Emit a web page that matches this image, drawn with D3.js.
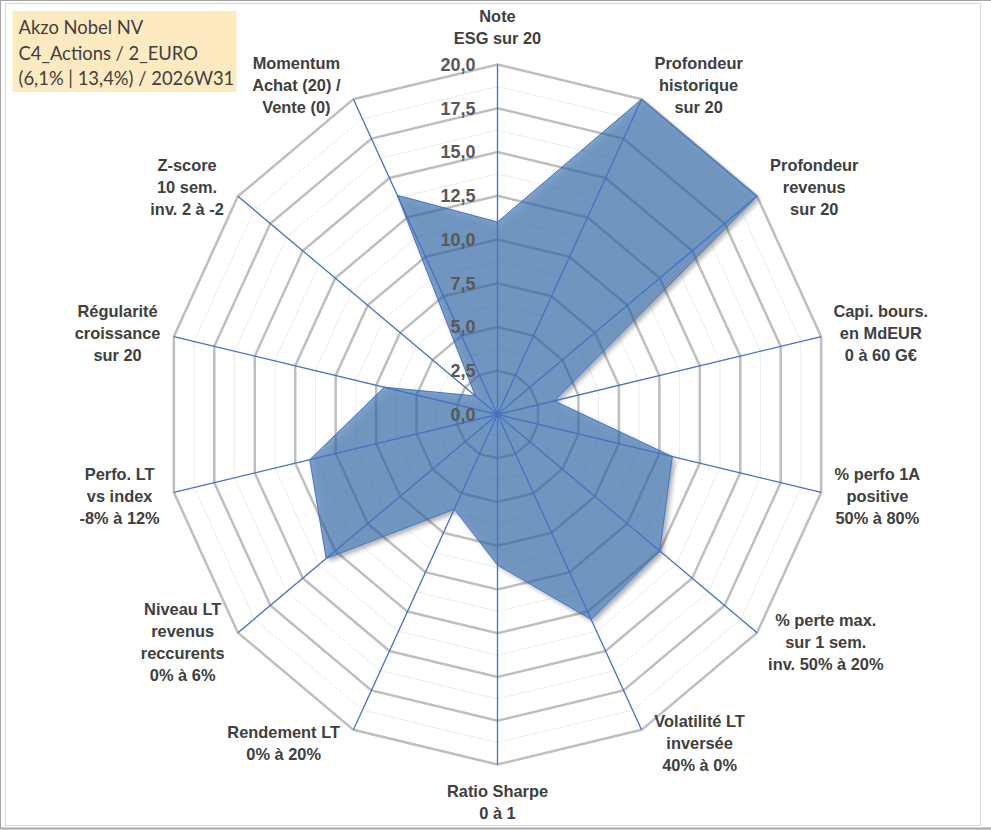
<!DOCTYPE html>
<html>
<head>
<meta charset="utf-8">
<script src="https://cdn.jsdelivr.net/npm/d3@7"></script>
<style>
  html, body { margin: 0; padding: 0; background: #ffffff; }
  svg { display: block; }
</style>
</head>
<body>
<svg id="chart" width="991" height="830"></svg>
<script>
// ---------------- DATA ----------------
const categories = [
  ["Note", "ESG sur 20"],
  ["Profondeur", "historique", "sur 20"],
  ["Profondeur", "revenus", "sur 20"],
  ["Capi. bours.", "en MdEUR", "0 à 60 G€"],
  ["% perfo 1A", "positive", "50% à 80%"],
  ["% perte max.", "sur 1 sem.", "inv. 50% à 20%"],
  ["Volatilité LT", "inversée", "40% à 0%"],
  ["Ratio Sharpe", "0 à 1"],
  ["Rendement LT", "0% à 20%"],
  ["Niveau LT", "revenus", "reccurents", "0% à 6%"],
  ["Perfo. LT", "vs index", "-8% à 12%"],
  ["Régularité", "croissance", "sur 20"],
  ["Z-score", "10 sem.", "inv. 2 à -2"],
  ["Momentum", "Achat (20) /", "Vente (0)"]
];
const seriesValues = [11.0, 20.0, 20.0, 3.5, 10.8, 12.5, 13.0, 8.6, 6.0, 13.2, 11.6, 7.0, 1.7, 13.9];
const tickValues = [0, 2.5, 5, 7.5, 10, 12.5, 15, 17.5, 20];
const tickLabels = ["0,0", "2,5", "5,0", "7,5", "10,0", "12,5", "15,0", "17,5", "20,0"];
const minorTickValues = [1.25, 3.75, 6.25, 8.75, 11.25, 13.75, 16.25, 18.75];
const titleLines = ["Akzo Nobel NV", "C4_Actions / 2_EURO", "(6,1% | 13,4%) / 2026W31"];

// ---------------- LAYOUT ----------------
const W = 991, H = 830;
const cx = 497.5, cy = 414.5;
const RX = 332, RY = 350;
const n = categories.length;

const svg = d3.select("#chart");

const rxScale = d3.scaleLinear().domain([0, 20]).range([0, RX]);
const ryScale = d3.scaleLinear().domain([0, 20]).range([0, RY]);
const angle = d3.scaleLinear().domain([0, n]).range([0, 2 * Math.PI]);

const px = (i, v) => cx + rxScale(v) * Math.sin(angle(i));
const py = (i, v) => cy - ryScale(v) * Math.cos(angle(i));

// Frame
svg.append("rect").attr("x", 0).attr("y", 0).attr("width", W).attr("height", H).attr("fill", "#ffffff");
svg.append("rect").attr("x", 5.5).attr("y", 3.5).attr("width", 975).attr("height", 822)
  .attr("fill", "#ffffff").attr("stroke", "#d9d9d9").attr("stroke-width", 1);
svg.append("line").attr("x1", 0).attr("x2", W).attr("y1", 0.5).attr("y2", 0.5).attr("stroke", "#a6a6a6");
svg.append("line").attr("x1", 0.5).attr("x2", 0.5).attr("y1", 0).attr("y2", 829).attr("stroke", "#a6a6a6");
svg.append("line").attr("x1", 0).attr("x2", W).attr("y1", 828.5).attr("y2", 828.5).attr("stroke", "#a6a6a6").attr("stroke-width", 2);

// Shadow filter (outside only)
const defs = svg.append("defs");
const f = defs.append("filter").attr("id", "shadow").attr("x", "-10%").attr("y", "-10%").attr("width", "130%").attr("height", "130%");
f.append("feGaussianBlur").attr("in", "SourceAlpha").attr("stdDeviation", 2.5).attr("result", "blur");
f.append("feOffset").attr("in", "blur").attr("dx", 3).attr("dy", 3).attr("result", "off");
f.append("feComponentTransfer").attr("in", "off").attr("result", "offA")
  .append("feFuncA").attr("type", "linear").attr("slope", 0.55);
f.append("feComposite").attr("in", "offA").attr("in2", "SourceAlpha").attr("operator", "out").attr("result", "outer");
const fm = f.append("feMerge");
fm.append("feMergeNode").attr("in", "outer");
fm.append("feMergeNode").attr("in", "SourceGraphic");

const ringLine = d3.line().curve(d3.curveLinearClosed);
const ringPoints = v => d3.range(n).map(i => [px(i, v), py(i, v)]);

// Minor rings
svg.append("g").selectAll("path").data(minorTickValues).join("path")
  .attr("d", v => ringLine(ringPoints(v)))
  .attr("fill", "none").attr("stroke", "#ececec").attr("stroke-width", 1);

// Major rings
svg.append("g").selectAll("path").data(tickValues.filter(v => v > 0)).join("path")
  .attr("d", v => ringLine(ringPoints(v)))
  .attr("fill", "none").attr("stroke", "#bfbfbf").attr("stroke-width", 2.5)
  .attr("stroke-linejoin", "miter");

// Series area
const areaLine = d3.line()
  .x((d, i) => px(i, d))
  .y((d, i) => py(i, d))
  .curve(d3.curveLinearClosed);

svg.append("path")
  .datum(seriesValues)
  .attr("d", areaLine)
  .attr("fill", "rgb(40,100,165)")
  .attr("fill-opacity", 0.6)
  .attr("filter", "url(#shadow)");

svg.append("path")
  .datum(seriesValues)
  .attr("d", areaLine)
  .attr("fill", "none")
  .attr("stroke", "#4472c4")
  .attr("stroke-width", 1);

// Spokes
svg.append("g").selectAll("line").data(d3.range(n)).join("line")
  .attr("x1", cx).attr("y1", cy)
  .attr("x2", i => px(i, 20)).attr("y2", i => py(i, 20))
  .attr("stroke", "#4472c4").attr("stroke-width", 1.3);

// Tick labels
svg.append("g").selectAll("text").data(tickValues).join("text")
  .attr("x", cx - 22)
  .attr("y", v => cy - ryScale(v))
  .attr("dy", "0.36em")
  .attr("text-anchor", "end")
  .attr("font-family", "'Liberation Sans', Arial, sans-serif")
  .attr("font-weight", "bold")
  .attr("font-size", 18)
  .attr("fill", "#595959")
  .text((v, i) => tickLabels[i]);

// Category labels
const LH = 22, CAP = 11.7;
const labelG = svg.append("g")
  .attr("font-family", "'Liberation Sans', Arial, sans-serif")
  .attr("font-weight", "bold")
  .attr("font-size", 16.4)
  .attr("fill", "#404040");

categories.forEach((lines, i) => {
  const t = labelG.append("text").attr("text-anchor", "middle");
  const spans = lines.map(l => t.append("tspan").text(l));
  let maxW = 0;
  spans.forEach(s => { maxW = Math.max(maxW, s.node().getComputedTextLength()); });
  const a = angle(i);
  const s = Math.sin(a), c = Math.cos(a);
  const halfW = maxW / 2;
  const halfH = ((lines.length - 1) * LH + CAP) / 2;
  let mx, my;
  if (Math.abs(s) < 0.01) {
    mx = cx;
    my = cy - c * (RY + 21) - Math.sign(c) * halfH;
  } else {
    mx = cx + s * (RX + 25) + Math.sign(s) * halfW * (1.29 - 0.56 * Math.abs(s));
    my = cy - c * (RY + 15);
  }
  const firstBase = my - halfH + CAP;
  spans.forEach((sp, k) => sp.attr("x", mx).attr("y", firstBase + k * LH));
});

// Title box
const tb = svg.append("g");
tb.append("rect").attr("x", 12.5).attr("y", 11).attr("width", 224).attr("height", 81).attr("fill", "#feeac1");
const tt = tb.append("g")
  .attr("font-family", "Lato, 'Open Sans', sans-serif")
  .attr("font-size", 19)
  .attr("fill", "#404040");
const tspans = titleLines.map((l, k) => tt.append("text").attr("x", 18.5).attr("y", 34.3 + k * 25.4).text(l));
const w3 = tspans[2].node().getComputedTextLength();
const fs = 19 * 216 / w3;
tt.attr("font-size", fs);
</script>
</body>
</html>
